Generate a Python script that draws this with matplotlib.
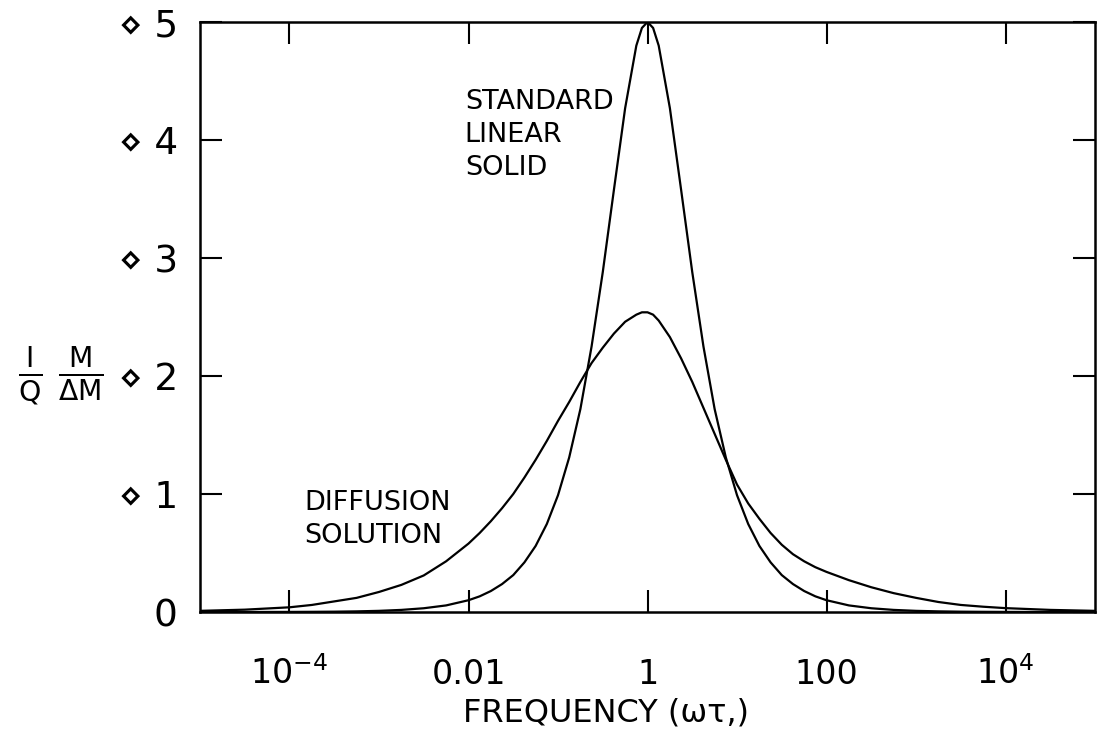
import matplotlib
matplotlib.use('Agg')
import matplotlib.pyplot as plt
import numpy as np

log_freq = [-5, -4.5, -4, -3.75, -3.5, -3.25, -3, -2.75, -2.5, -2.25, -2,
            -1.875, -1.75, -1.625, -1.5, -1.375, -1.25, -1.125, -1,
            -0.875, -0.75, -0.625, -0.5, -0.375, -0.25, -0.125, -0.0625, 0,
            0.0625, 0.125, 0.25, 0.375, 0.5, 0.625, 0.75, 0.875,
            1, 1.125, 1.25, 1.375, 1.5, 1.625, 1.75, 1.875,
            2, 2.25, 2.5, 2.75, 3, 3.25, 3.5, 3.75, 4, 4.5, 5]

standard_linear_solid = [0.00001, 0.00003, 0.0001, 0.00018, 0.0003, 0.00056, 0.001,
                         0.0018, 0.0032, 0.0056, 0.010,
                         0.0133, 0.0178, 0.0237, 0.0313, 0.0421, 0.0560, 0.0746, 0.099,
                         0.131, 0.172, 0.225, 0.288, 0.358, 0.427, 0.480, 0.495, 0.500,
                         0.495, 0.480, 0.427, 0.358, 0.288, 0.225, 0.172, 0.131,
                         0.099, 0.0746, 0.0560, 0.0421, 0.0313, 0.0237, 0.0178, 0.0133,
                         0.010, 0.0056, 0.0032, 0.0018, 0.001, 0.00056, 0.0003, 0.00018,
                         0.0001, 0.00003, 0.00001]

diffusion_solution = [0.001, 0.002, 0.004, 0.006, 0.009, 0.012, 0.017,
                      0.023, 0.031, 0.043, 0.058,
                      0.067, 0.077, 0.088, 0.100, 0.114, 0.129, 0.145, 0.162,
                      0.178, 0.195, 0.211, 0.224, 0.236, 0.246, 0.252, 0.254, 0.254,
                      0.252, 0.247, 0.233, 0.215, 0.195, 0.173, 0.151, 0.129,
                      0.108, 0.092, 0.079, 0.067, 0.057, 0.049, 0.043, 0.038,
                      0.034, 0.027, 0.021, 0.016, 0.012, 0.0085, 0.006, 0.0045,
                      0.0033, 0.0018, 0.001]

x_ticks = [1e-4, 1e-2, 1, 1e2, 1e4]
x_tick_labels = [r'$\mathdefault{10^{-4}}$', '0.01', '1', '100', r'$\mathdefault{10^{4}}$']
y_ticks = [0, 0.1, 0.2, 0.3, 0.4, 0.5]
y_tick_labels = ['0', '\u22c4 1', '\u22c4 2', '\u22c4 3', '\u22c4 4', '\u22c4 5']

plt.rcParams['font.family'] = ['DejaVu Sans']
plt.rcParams['mathtext.fontset'] = 'dejavusans'

fig = plt.figure(figsize=(11, 7.32), dpi=100)
ax = fig.add_axes([0.1818, 0.1639, 0.8137, 0.806])

freq = 10.0 ** np.array(log_freq)
ax.plot(freq, standard_linear_solid, color='black', lw=1.6)
ax.plot(freq, diffusion_solution, color='black', lw=1.6)

ax.set_xscale('log')
ax.set_xlim(1e-5, 1e5)
ax.set_ylim(0, 0.5)
ax.minorticks_off()

ax.set_xticks(x_ticks)
ax.set_xticklabels(x_tick_labels, fontsize=24)
ax.set_yticks(y_ticks)
ax.set_yticklabels(y_tick_labels, fontsize=27)

ax.tick_params(axis='both', which='major', direction='in', length=16, width=1.5,
               top=True, right=True)
ax.tick_params(axis='x', pad=52)
ax.tick_params(axis='y', pad=16)
for lbl in ax.get_xticklabels():
    lbl.set_verticalalignment('baseline')

for s in ax.spines.values():
    s.set_linewidth(1.8)

ax.set_xlabel('FREQUENCY (\u03c9\u03c4,)', fontsize=23)
ax.xaxis.set_label_coords(0.454, -0.145)
ax.set_ylabel(r'$\frac{\mathrm{I}}{\mathrm{Q}}\ \frac{\mathrm{M}}{\Delta \mathrm{M}}$',
              fontsize=29, rotation=0, va='center')
ax.yaxis.set_label_coords(-0.155, 0.40)

ax.text(0.0091, 0.443, 'STANDARD\nLINEAR\nSOLID', fontsize=19.5,
        va='top', ha='left', linespacing=1.35)
ax.text(1.47e-4, 0.103, 'DIFFUSION\nSOLUTION', fontsize=19.5,
        va='top', ha='left', linespacing=1.35)

fig.savefig('out.png', dpi=100)
